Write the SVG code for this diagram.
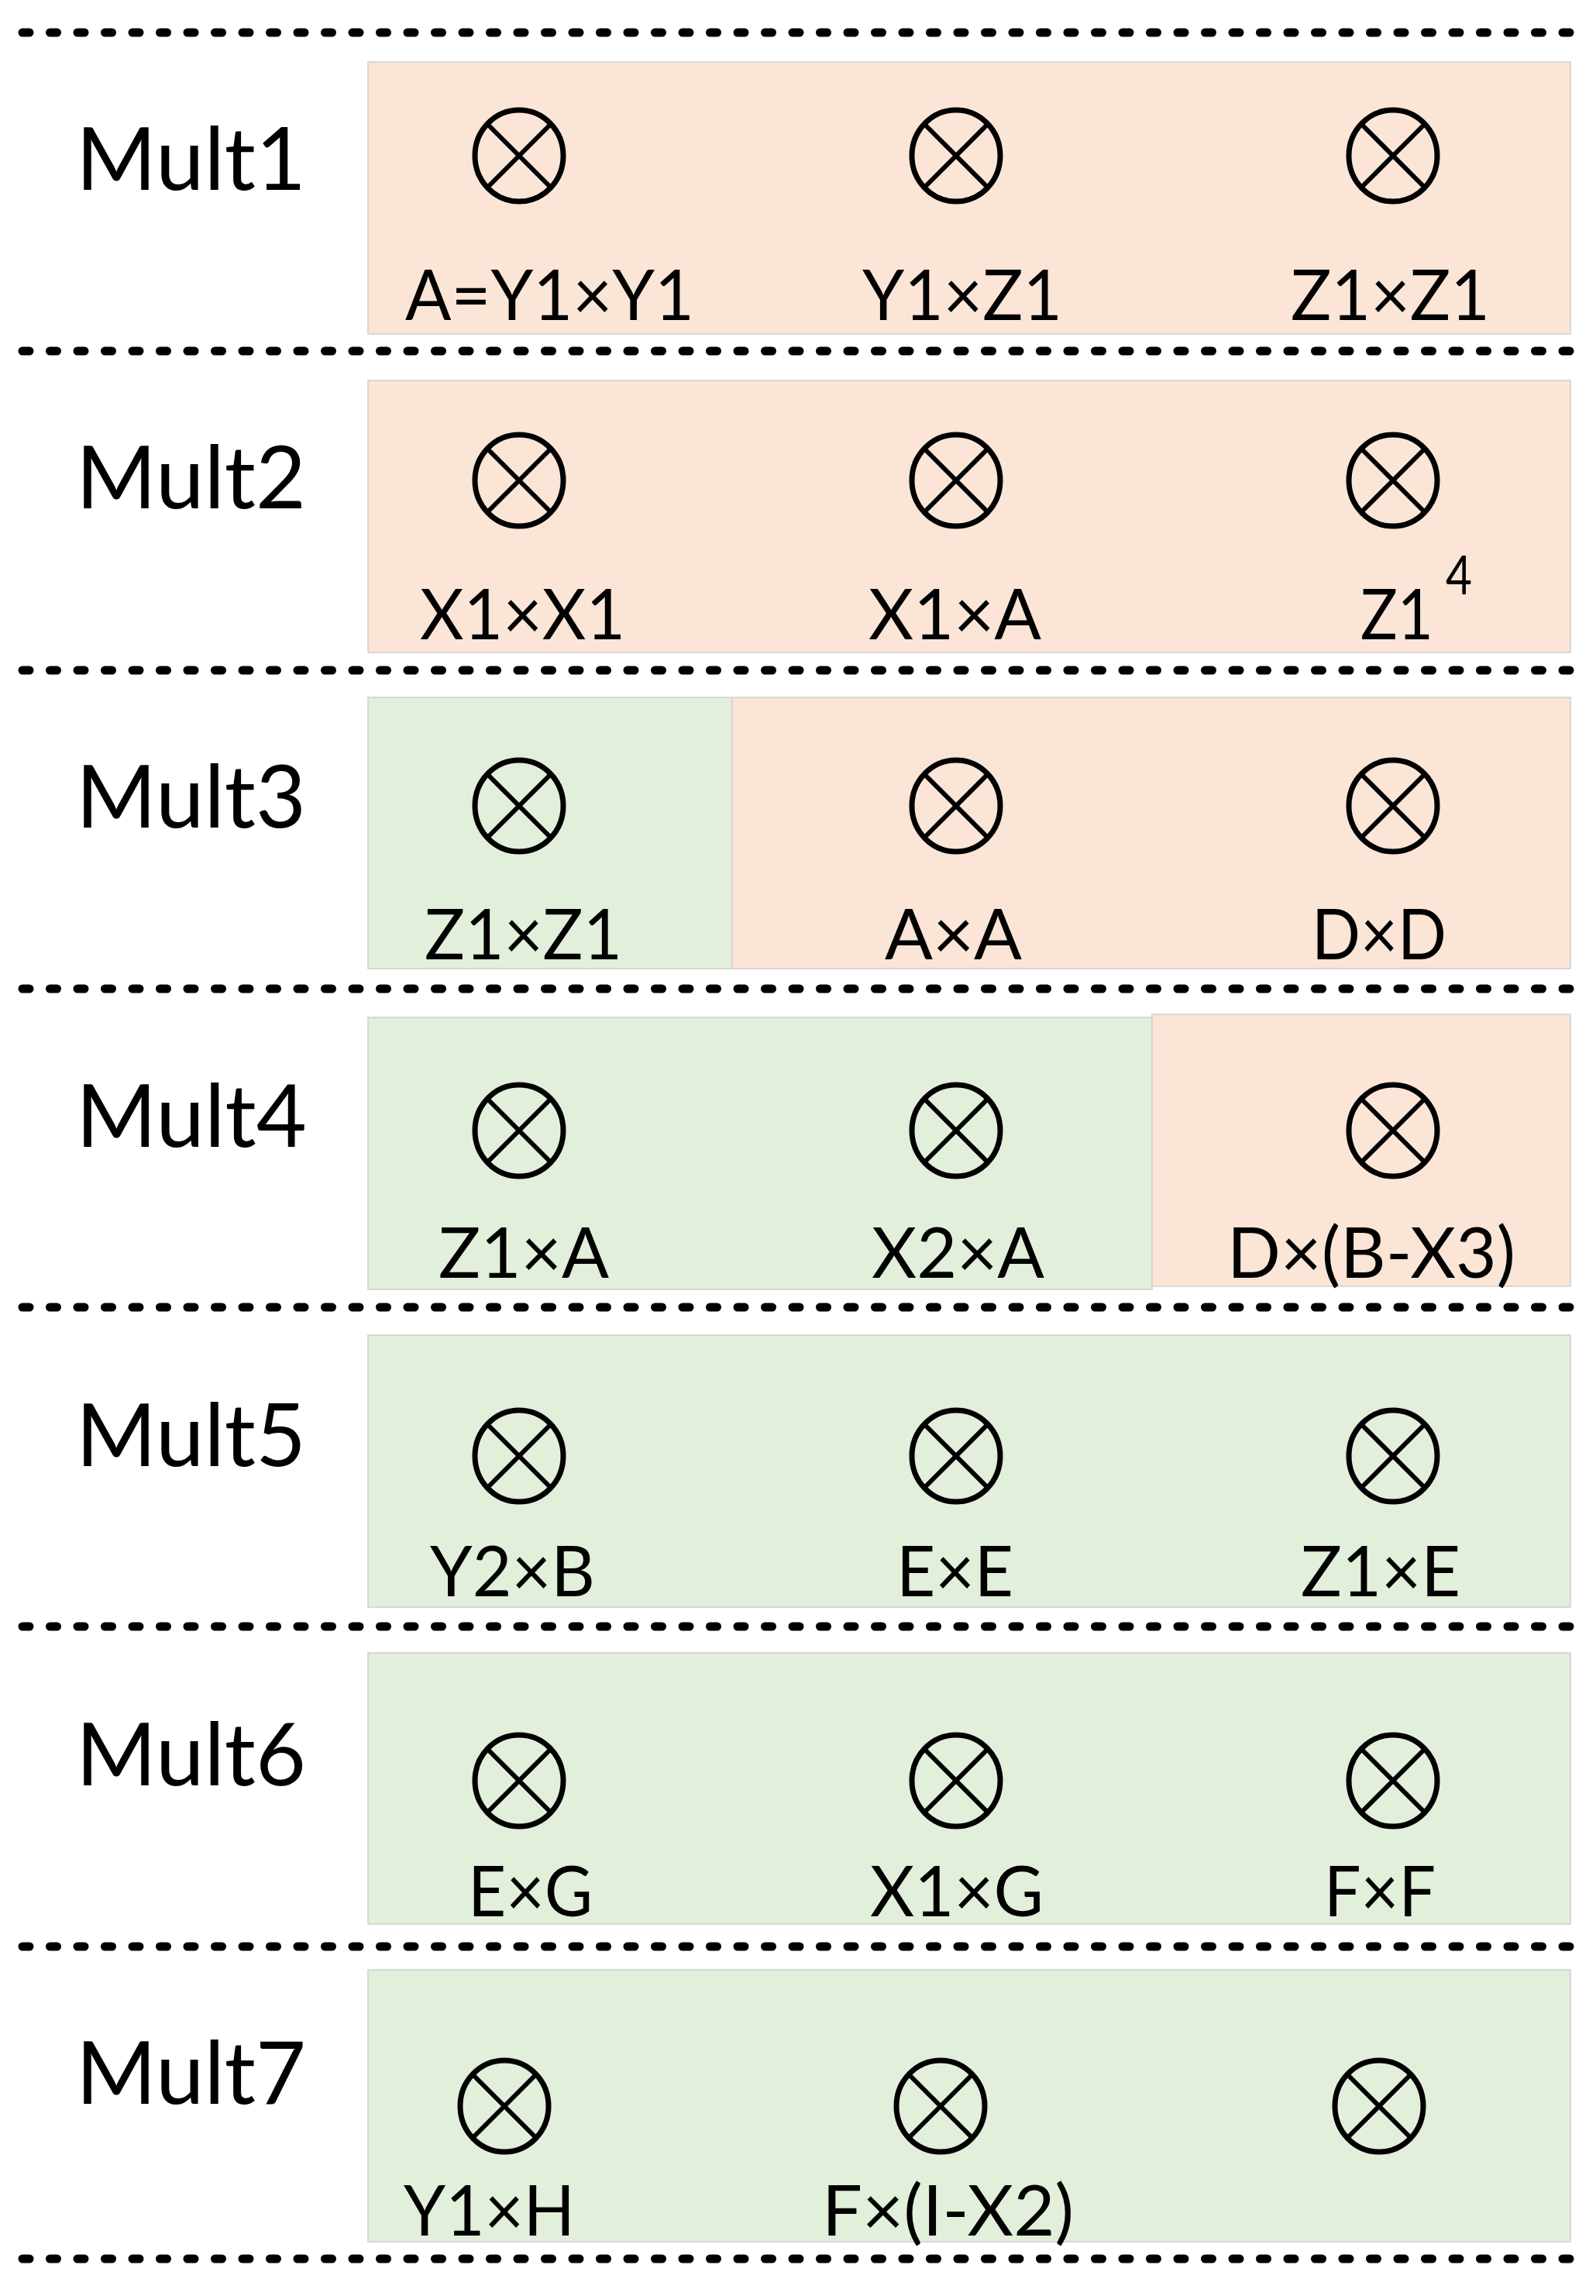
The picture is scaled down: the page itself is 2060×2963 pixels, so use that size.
<svg xmlns="http://www.w3.org/2000/svg" xmlns:xlink="http://www.w3.org/1999/xlink" width="2060" height="2963" viewBox="0 0 2060 2963">
<style>
.sep{stroke:#000;stroke-width:11;stroke-linecap:round;stroke-dasharray:9 26.5;fill:none}
.peach{fill:#FBE5D6;stroke:#D0CECE;stroke-width:1.5}
.green{fill:#E2EFDA;stroke:#D0CECE;stroke-width:1.5}
.mult{font-family:Lato,"Liberation Sans",sans-serif;font-size:113px;fill:#000}
.lbl{font-family:Lato,"Liberation Sans",sans-serif;font-size:92px;fill:#000}
.sup{font-family:Lato,"Liberation Sans",sans-serif;font-size:70px;fill:#000}
.ot ellipse{fill:none;stroke:#000;stroke-width:7}
.ot line{stroke:#000;stroke-width:6}
</style>
<defs>
<g id="otimes" class="ot">
<ellipse cx="0" cy="0" rx="57" ry="59"/>
<line x1="-41" y1="-41" x2="41" y2="41"/>
<line x1="41" y1="-41" x2="-41" y2="41"/>
</g>
</defs>
<g id="separators">
<line class="sep" x1="29" y1="42" x2="2030" y2="42"/>
<line class="sep" x1="29" y1="453" x2="2030" y2="453"/>
<line class="sep" x1="29" y1="865" x2="2030" y2="865"/>
<line class="sep" x1="29" y1="1276" x2="2030" y2="1276"/>
<line class="sep" x1="29" y1="1687" x2="2030" y2="1687"/>
<line class="sep" x1="29" y1="2099" x2="2030" y2="2099"/>
<line class="sep" x1="29" y1="2512" x2="2030" y2="2512"/>
<line class="sep" x1="29" y1="2915" x2="2030" y2="2915"/>
</g>
<g id="connectors"></g>
<g id="row1">
<rect class="peach" x="475" y="80" width="1552" height="351"/>
<text class="mult" x="98" y="245" textLength="297" lengthAdjust="spacingAndGlyphs">Mult1</text>
<use xlink:href="#otimes" x="670" y="201"/>
<use xlink:href="#otimes" x="1234" y="201"/>
<use xlink:href="#otimes" x="1798" y="201"/>
<text class="lbl" x="523" y="413" textLength="373" lengthAdjust="spacingAndGlyphs">A=Y1×Y1</text>
<text class="lbl" x="1113" y="413" textLength="258" lengthAdjust="spacingAndGlyphs">Y1×Z1</text>
<text class="lbl" x="1666" y="413" textLength="257" lengthAdjust="spacingAndGlyphs">Z1×Z1</text>
</g>
<g id="row2">
<rect class="peach" x="475" y="491" width="1552" height="351"/>
<text class="mult" x="98" y="656" textLength="297" lengthAdjust="spacingAndGlyphs">Mult2</text>
<use xlink:href="#otimes" x="670" y="620"/>
<use xlink:href="#otimes" x="1234" y="620"/>
<use xlink:href="#otimes" x="1798" y="620"/>
<text class="lbl" x="542" y="825" textLength="265" lengthAdjust="spacingAndGlyphs">X1×X1</text>
<text class="lbl" x="1121" y="825" textLength="223" lengthAdjust="spacingAndGlyphs">X1×A</text>
<text class="lbl" x="1756" y="825" textLength="94" lengthAdjust="spacingAndGlyphs">Z1</text>
<text class="sup" x="1866" y="767" textLength="34" lengthAdjust="spacingAndGlyphs">4</text>
</g>
<g id="row3">
<rect class="green" x="475" y="900" width="470" height="350"/>
<rect class="peach" x="945" y="900" width="1082" height="350"/>
<text class="mult" x="98" y="1068" textLength="297" lengthAdjust="spacingAndGlyphs">Mult3</text>
<use xlink:href="#otimes" x="670" y="1040"/>
<use xlink:href="#otimes" x="1234" y="1040"/>
<use xlink:href="#otimes" x="1798" y="1040"/>
<text class="lbl" x="548" y="1238" textLength="255" lengthAdjust="spacingAndGlyphs">Z1×Z1</text>
<text class="lbl" x="1142" y="1238" textLength="177" lengthAdjust="spacingAndGlyphs">A×A</text>
<text class="lbl" x="1693" y="1238" textLength="174" lengthAdjust="spacingAndGlyphs">D×D</text>
</g>
<g id="row4">
<rect class="green" x="475" y="1313" width="1012" height="351"/>
<rect class="peach" x="1487" y="1309" width="540" height="351"/>
<text class="mult" x="98" y="1480" textLength="298" lengthAdjust="spacingAndGlyphs">Mult4</text>
<use xlink:href="#otimes" x="670" y="1459"/>
<use xlink:href="#otimes" x="1234" y="1459"/>
<use xlink:href="#otimes" x="1798" y="1459"/>
<text class="lbl" x="566" y="1649" textLength="220" lengthAdjust="spacingAndGlyphs">Z1×A</text>
<text class="lbl" x="1125" y="1649" textLength="223" lengthAdjust="spacingAndGlyphs">X2×A</text>
<text class="lbl" x="1584" y="1649" textLength="372" lengthAdjust="spacingAndGlyphs">D×(B-X3)</text>
</g>
<g id="row5">
<rect class="green" x="475" y="1723" width="1552" height="351"/>
<text class="mult" x="98" y="1892" textLength="297" lengthAdjust="spacingAndGlyphs">Mult5</text>
<use xlink:href="#otimes" x="670" y="1879"/>
<use xlink:href="#otimes" x="1234" y="1879"/>
<use xlink:href="#otimes" x="1798" y="1879"/>
<text class="lbl" x="555" y="2060" textLength="213" lengthAdjust="spacingAndGlyphs">Y2×B</text>
<text class="lbl" x="1157" y="2060" textLength="151" lengthAdjust="spacingAndGlyphs">E×E</text>
<text class="lbl" x="1679" y="2060" textLength="206" lengthAdjust="spacingAndGlyphs">Z1×E</text>
</g>
<g id="row6">
<rect class="green" x="475" y="2133" width="1552" height="350"/>
<text class="mult" x="98" y="2304" textLength="297" lengthAdjust="spacingAndGlyphs">Mult6</text>
<use xlink:href="#otimes" x="670" y="2298"/>
<use xlink:href="#otimes" x="1234" y="2298"/>
<use xlink:href="#otimes" x="1798" y="2298"/>
<text class="lbl" x="604" y="2473" textLength="161" lengthAdjust="spacingAndGlyphs">E×G</text>
<text class="lbl" x="1123" y="2473" textLength="224" lengthAdjust="spacingAndGlyphs">X1×G</text>
<text class="lbl" x="1709" y="2473" textLength="144" lengthAdjust="spacingAndGlyphs">F×F</text>
</g>
<g id="row7">
<rect class="green" x="475" y="2542" width="1552" height="351"/>
<text class="mult" x="98" y="2715" textLength="297" lengthAdjust="spacingAndGlyphs">Mult7</text>
<use xlink:href="#otimes" x="651" y="2718"/>
<use xlink:href="#otimes" x="1214" y="2718"/>
<use xlink:href="#otimes" x="1780" y="2718"/>
<text class="lbl" x="521" y="2885" textLength="221" lengthAdjust="spacingAndGlyphs">Y1×H</text>
<text class="lbl" x="1061" y="2885" textLength="325" lengthAdjust="spacingAndGlyphs">F×(I-X2)</text>
</g>
</svg>
